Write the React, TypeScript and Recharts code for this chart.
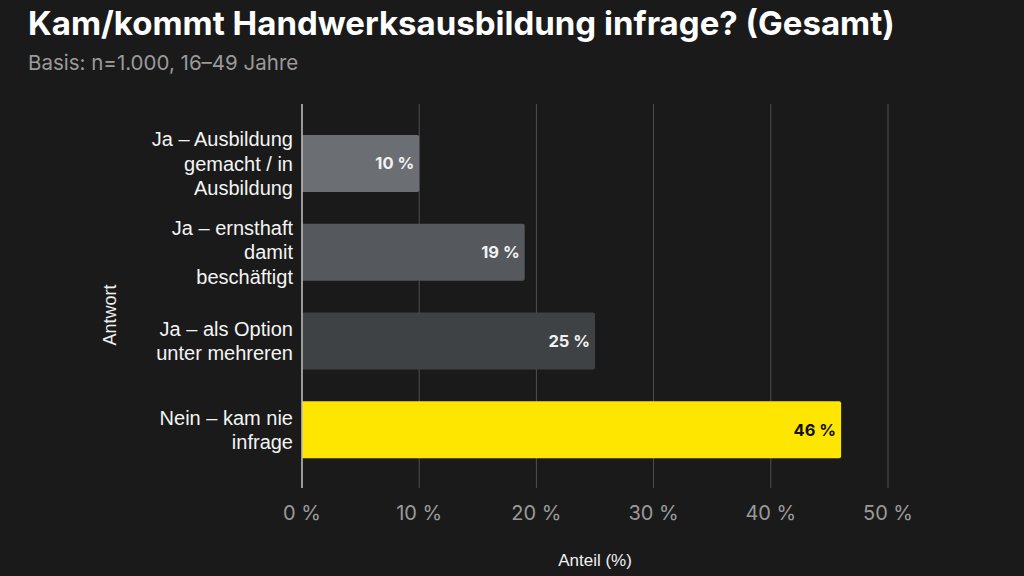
import React from "react";
import { Bar, BarChart, CartesianGrid, Cell, LabelList, XAxis, YAxis } from "recharts";

const categories = [
  "Ja – Ausbildung\ngemacht / in\nAusbildung",
  "Ja – ernsthaft\ndamit\nbeschäftigt",
  "Ja – als Option\nunter mehreren",
  "Nein – kam nie\ninfrage",
];
const shares = [10, 19, 25, 46];
const barColors = ["#6b6f74", "#55585c", "#3f4245", "#ffe600"];
const labelColors = ["#f2f2f2", "#f2f2f2", "#f2f2f2", "#111111"];
const xTicks = [0, 10, 20, 30, 40, 50];

const data = categories.map((c, i) => ({ antwort: c, anteil: shares[i] }));

const BG = "#1a1a1a";

function CategoryTick(props: any) {
  const { x, y, payload } = props;
  const lines = String(payload.value).split("\n");
  const lh = 24.5;
  const start = -((lines.length - 1) * lh) / 2;
  return (
    <text
      x={x}
      y={y}
      textAnchor="end"
      fill="#f4f4f4"
      fontSize={20}
      fontFamily="'Liberation Sans', Arial, sans-serif"
    >
      {lines.map((l, i) => (
        <tspan key={i} x={x} y={y + start + i * lh} dy="0.36em">
          {l}
        </tspan>
      ))}
    </text>
  );
}

export default function App() {
  return (
    <div
      style={{
        position: "fixed",
        left: 0,
        top: 0,
        width: 1024,
        height: 576,
        background: BG,
        overflow: "hidden",
        fontFamily: "Inter, sans-serif",
      }}
    >
      <div
        style={{
          position: "absolute",
          left: 28,
          top: 7,
          color: "#ffffff",
          fontSize: 33,
          lineHeight: "33px",
          fontWeight: 700,
          whiteSpace: "nowrap",
        }}
      >
        Kam/kommt Handwerksausbildung infrage? (Gesamt)
      </div>
      <div
        style={{
          position: "absolute",
          left: 28,
          top: 53,
          color: "#9a9a9a",
          fontSize: 20.5,
          lineHeight: "20.5px",
          whiteSpace: "nowrap",
        }}
      >
        Basis: n=1.000, 16–49 Jahre
      </div>
      <div
        style={{
          position: "absolute",
          left: 110,
          top: 315,
          transform: "translate(-50%, -50%) rotate(-90deg)",
          color: "#f0f0f0",
          fontSize: 18,
          fontFamily: "'Liberation Sans', Arial, sans-serif",
          whiteSpace: "nowrap",
        }}
      >
        Antwort
      </div>
      <div style={{ position: "absolute", left: 0, top: 0 }}>
        <BarChart
          width={1024}
          height={576}
          data={data}
          layout="vertical"
          margin={{ top: 104, right: 136, bottom: 8, left: 0 }}
        >
          <CartesianGrid horizontal={false} stroke="#505050" strokeWidth={1} />
          <XAxis
            type="number"
            dataKey="anteil"
            domain={[0, 50]}
            ticks={xTicks}
            tickFormatter={(v: number) => `${v} %`}
            axisLine={false}
            tickLine={false}
            tickMargin={12}
            height={80}
            tick={{ fill: "#9a9a9a", fontSize: 20, fontFamily: "Inter, sans-serif" }}
            label={{
              value: "Anteil (%)",
              position: "insideBottom",
              offset: 2,
              fill: "#f0f0f0",
              fontSize: 17,
              fontFamily: "'Liberation Sans', Arial, sans-serif",
            }}
          />
          <YAxis
            type="category"
            dataKey="antwort"
            width={302}
            padding={{ top: 15, bottom: 14 }}
            axisLine={{ stroke: "#bdbdbd", strokeWidth: 1.5 }}
            tickLine={false}
            tickMargin={3}
            tick={<CategoryTick />}
            interval={0}
          />
          <Bar dataKey="anteil" barSize={57} isAnimationActive={false} radius={[0, 2, 2, 0]}>
            {data.map((d, i) => (
              <Cell key={d.antwort} fill={barColors[i]} />
            ))}
            <LabelList
              dataKey="anteil"
              position="insideRight"
              content={(p: any) => {
                const { x, y, width, height, value, index } = p;
                return (
                  <text
                    x={x + width - 5}
                    y={y + height / 2}
                    dy="0.36em"
                    textAnchor="end"
                    fill={labelColors[index]}
                    fontSize={16.5}
                    fontWeight={700}
                    fontFamily="Inter, sans-serif"
                  >
                    {`${value} %`}
                  </text>
                );
              }}
            />
          </Bar>
        </BarChart>
      </div>
    </div>
  );
}
